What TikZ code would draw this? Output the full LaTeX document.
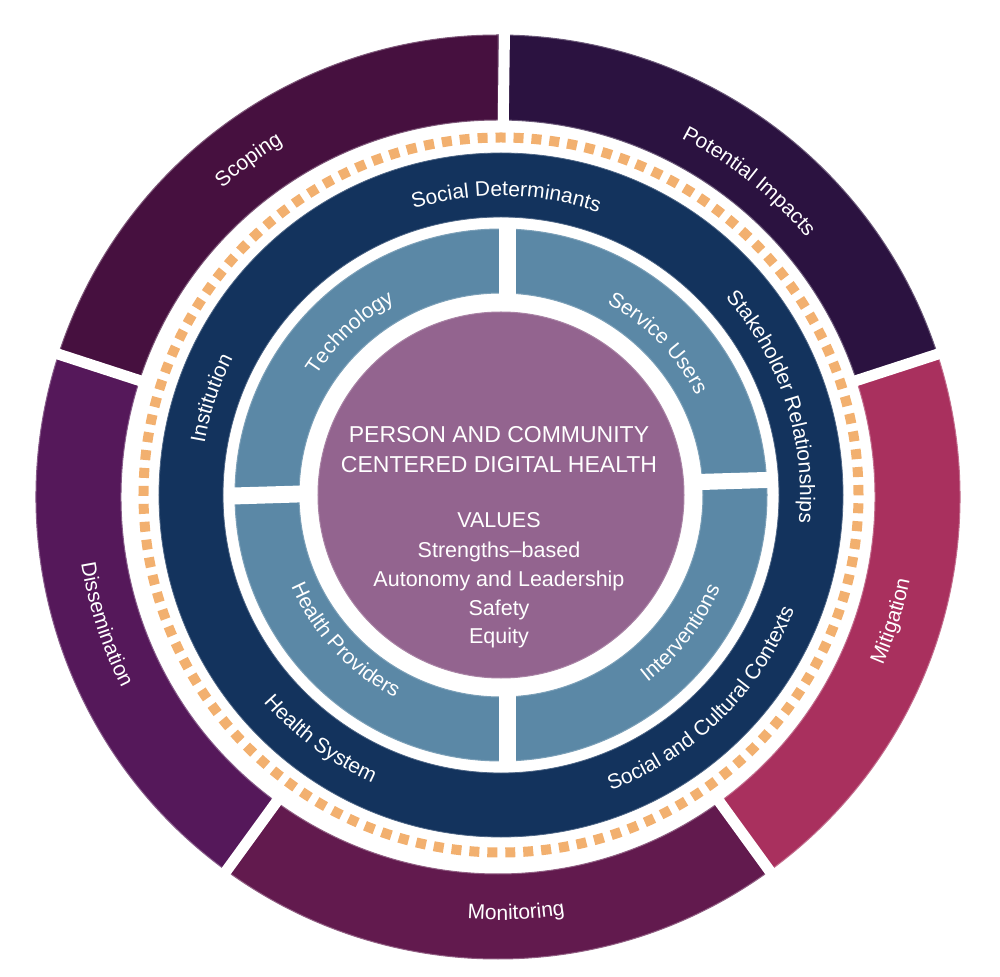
\documentclass[tikz,border=0pt]{standalone}
\usepackage{fontspec}
\setmainfont{Liberation Sans}
\usetikzlibrary{decorations.text}
\definecolor{cPot}{HTML}{2B1240}
\definecolor{cScop}{HTML}{46103F}
\definecolor{cDiss}{HTML}{55185A}
\definecolor{cMon}{HTML}{621A4E}
\definecolor{cMit}{HTML}{A9305E}
\definecolor{cDark}{HTML}{13335D}
\definecolor{cLight}{HTML}{5B88A6}
\definecolor{cCore}{HTML}{93648F}
\definecolor{cDash}{HTML}{F2B06F}
\newcommand\lblfont{\fontsize{21}{25}\selectfont}
\newcommand\ringcw[4]{%
  \pgfmathsetmacro\rlS{#2+50}\pgfmathsetmacro\rlE{#2-50}%
  \path[shift={(#1)},decorate,decoration={text along path,text align=center,text color=white,text={|\lblfont|#4}}]
    (\rlS:#3) arc[start angle=\rlS,end angle=\rlE,radius=#3];}
\newcommand\ringccw[4]{%
  \pgfmathsetmacro\rlS{#2-50}\pgfmathsetmacro\rlE{#2+50}%
  \path[shift={(#1)},decorate,decoration={text along path,text align=center,text color=white,text={|\lblfont|#4}}]
    (\rlS:#3) arc[start angle=\rlS,end angle=\rlE,radius=#3];}
\begin{document}
\begin{tikzpicture}[x=1pt,y=1pt,
  ctext/.style={text=white,inner sep=0pt,anchor=base},
  titlefont/.style={font=\fontsize{23}{27}\selectfont},
  valfont/.style={font=\fontsize{21.5}{26}\selectfont}]
\useasboundingbox (-500,-480) rectangle (500,496);
\coordinate (c) at (1,1);
\coordinate (co) at (-2,-1);
% outer segments
\foreach \a/\b/\col in {18/90/cPot, 90/162/cScop, 162/234/cDiss, 234/306/cMon, 306/378/cMit}{
  \filldraw[shift={(co)},fill=\col,draw=\col!70!white,line width=1]
    (\a:462) arc[start angle=\a,end angle=\b,radius=462] -- (\b:377)
    arc[start angle=\b,end angle=\a,radius=377] -- cycle;
}
\foreach \g in {18,89.2,162,234,306}{
  \draw[shift={(co)},white,line width=11] (\g:366) -- (\g:474);
}
% dashed ring
\draw[cDash,line width=10,dash pattern=on 10 off 7.97] (c) circle[radius=357.5];
% dark ring
\fill[cDark,even odd rule] (c) circle[radius=342] (c) circle[radius=278];
\draw[cDark!75!white,line width=0.8] (c) circle[radius=342] (c) circle[radius=278];
% light ring
\fill[cLight,even odd rule] (c) circle[radius=266] (c) circle[radius=202];
\draw[cLight!80!white,line width=1] (c) circle[radius=266] (c) circle[radius=202];
\fill[white] (-1,-272) rectangle (16,274);
\fill[white] (-274,8.3) -- (276,24.3) -- (276,8.3) -- (-274,-8.7) -- cycle;
% core
\fill[cCore] (c) circle[radius=183];
\draw[cCore!80!white,line width=1] (c) circle[radius=183];
% centre text
\node[ctext,titlefont] (t1) at (-1,53) {PERSON AND COMMUNITY};
\node[ctext,titlefont] (t2) at (-1,23) {CENTERED DIGITAL HEALTH};
\node[ctext,valfont] (v0) at (-1,-32) {VALUES};
\node[ctext,valfont] (v1) at (-1,-62) {Strengths–based};
\node[ctext,valfont] (v2) at (-1,-91) {Autonomy and Leadership};
\node[ctext,valfont] (v3) at (-1,-119) {Safety};
\node[ctext,valfont] (v4) at (-1,-147) {Equity};
% outer labels
\ringcw{co}{126.5}{414}{Scoping}
\ringcw{co}{51.5}{403}{Potential Impacts}
\ringccw{co}{-17.5}{420}{Mitigation}
\ringccw{co}{272.5}{423}{Monitoring}
\ringccw{co}{198}{422}{Dissemination}
% dark ring labels
\ringcw{c}{89}{299}{Social Determinants}
\ringcw{c}{18}{299}{Stakeholder Relationships}
\ringcw{c}{161.5}{301}{Institution}
\ringccw{c}{-45.5}{315}{Social and Cultural Contexts}
\ringccw{c}{233.5}{315}{Health System}
% light ring labels
\ringcw{c}{133}{220}{Technology}
\ringcw{c}{44}{219}{Service Users}
\ringccw{c}{-37.5}{238}{Interventions}
\ringccw{c}{223}{229}{Health Providers}
\end{tikzpicture}
\end{document}
